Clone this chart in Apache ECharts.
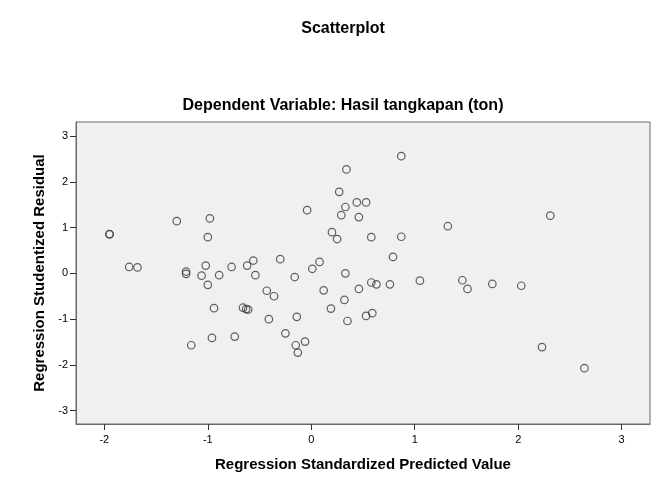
<!DOCTYPE html>
<html>
<head>
<meta charset="utf-8">
<title>Scatterplot</title>
<script src="https://cdn.jsdelivr.net/npm/echarts@6/dist/echarts.min.js"></script>
<style>
  html, body { margin: 0; padding: 0; background: #ffffff; }
  #chart { width: 651px; height: 477px; }
</style>
</head>
<body>
<div id="chart"></div>
<script>
// predicted value (x) and studentized residual (y)
const predicted = [
    -1.95, -1.95, -1.30, -0.98, -1.00, -1.76, -1.68, -1.21, -1.21, -1.02,
    -1.06, -0.89, -0.77, -0.62, -0.56, -0.54, -1.00, -0.43, -0.94, -0.66,
    -0.63, -0.61, -0.41, -1.16, -0.96, -0.74, 0.87, 0.34, 0.27, 0.44,
    0.53, 0.33, -0.04, 0.29, 0.46, 1.32, 0.20, 0.25, 0.58, 0.87,
    -0.30, 0.08, 0.01, 0.79, 0.33, -0.16, -0.36, 0.12, 0.46, 0.58,
    0.63, 0.76, 1.05, 0.32, 0.19, -0.14, 0.35, 0.53, 0.59, -0.25,
    -0.15, -0.06, -0.13, 1.46, 1.51, 1.75, 2.03, 2.23, 2.64, 2.31
];
const residual = [
    0.85, 0.86, 1.14, 1.20, 0.79, 0.14, 0.13, 0.04, -0.01, 0.17,
    -0.05, -0.04, 0.14, 0.17, 0.28, -0.04, -0.25, -0.38, -0.76, -0.75,
    -0.78, -0.79, -1.00, -1.57, -1.41, -1.38, 2.56, 2.27, 1.78, 1.55,
    1.55, 1.45, 1.38, 1.27, 1.23, 1.03, 0.90, 0.75, 0.79, 0.80,
    0.31, 0.25, 0.10, 0.36, 0.00, -0.08, -0.50, -0.37, -0.34, -0.20,
    -0.24, -0.24, -0.16, -0.58, -0.77, -0.95, -1.04, -0.93, -0.87, -1.31,
    -1.57, -1.49, -1.73, -0.15, -0.34, -0.23, -0.27, -1.61, -2.07, 1.26
];

const xTicks = [-2, -1, 0, 1, 2, 3];
const yTicks = [-3, -2, -1, 0, 1, 2, 3];

const FONT = '"Liberation Sans", Arial, sans-serif';

const chart = echarts.init(document.getElementById('chart'));

chart.setOption({
    animation: false,
    textStyle: { fontFamily: FONT },
    title: [
        {
            text: 'Scatterplot',
            left: 338,
            top: 16,
            textAlign: 'center',
            textStyle: { fontSize: 16, fontWeight: 'bold', color: '#000', fontFamily: FONT }
        },
        {
            text: 'Dependent Variable: Hasil tangkapan (ton)',
            left: 338,
            top: 93,
            textAlign: 'center',
            textStyle: { fontSize: 16, fontWeight: 'bold', color: '#000', fontFamily: FONT }
        }
    ],
    grid: {
        left: 76,
        right: 1,
        top: 122,
        bottom: 53,
        show: true,
        backgroundColor: '#f0f0f0',
        borderColor: '#6a6a6a',
        borderWidth: 1
    },
    xAxis: {
        type: 'value',
        min: -2.274,
        max: 3.274,
        name: 'Regression Standardized Predicted Value',
        nameLocation: 'middle',
        nameGap: 33,
        nameTextStyle: { fontSize: 15, fontWeight: 'bold', color: '#000' },
        splitLine: { show: false },
        axisLine: { show: true, onZero: false, lineStyle: { color: '#6a6a6a' } },
        axisTick: { show: true, length: 6, customValues: xTicks, lineStyle: { color: '#333' } },
        axisLabel: {
            customValues: xTicks,
            margin: 10,
            fontSize: 11,
            color: '#000'
        }
    },
    yAxis: {
        type: 'value',
        min: -3.29,
        max: 3.306,
        name: 'Regression Studentized Residual',
        nameLocation: 'middle',
        nameRotate: 90,
        nameGap: 26,
        nameTextStyle: { fontSize: 15, fontWeight: 'bold', color: '#000' },
        splitLine: { show: false },
        axisLine: { show: true, onZero: false, lineStyle: { color: '#6a6a6a' } },
        axisTick: { show: true, length: 6, customValues: yTicks, lineStyle: { color: '#333' } },
        axisLabel: {
            customValues: yTicks,
            margin: 8,
            fontSize: 11,
            color: '#000'
        }
    },
    series: [{
        type: 'scatter',
        symbol: 'circle',
        symbolSize: 7.5,
        data: predicted.map((x, i) => [x, residual[i]]),
        itemStyle: {
            color: 'rgba(0,0,0,0)',
            borderColor: '#3a3a3a',
            borderWidth: 1.2
        }
    }]
});
</script>
</body>
</html>
